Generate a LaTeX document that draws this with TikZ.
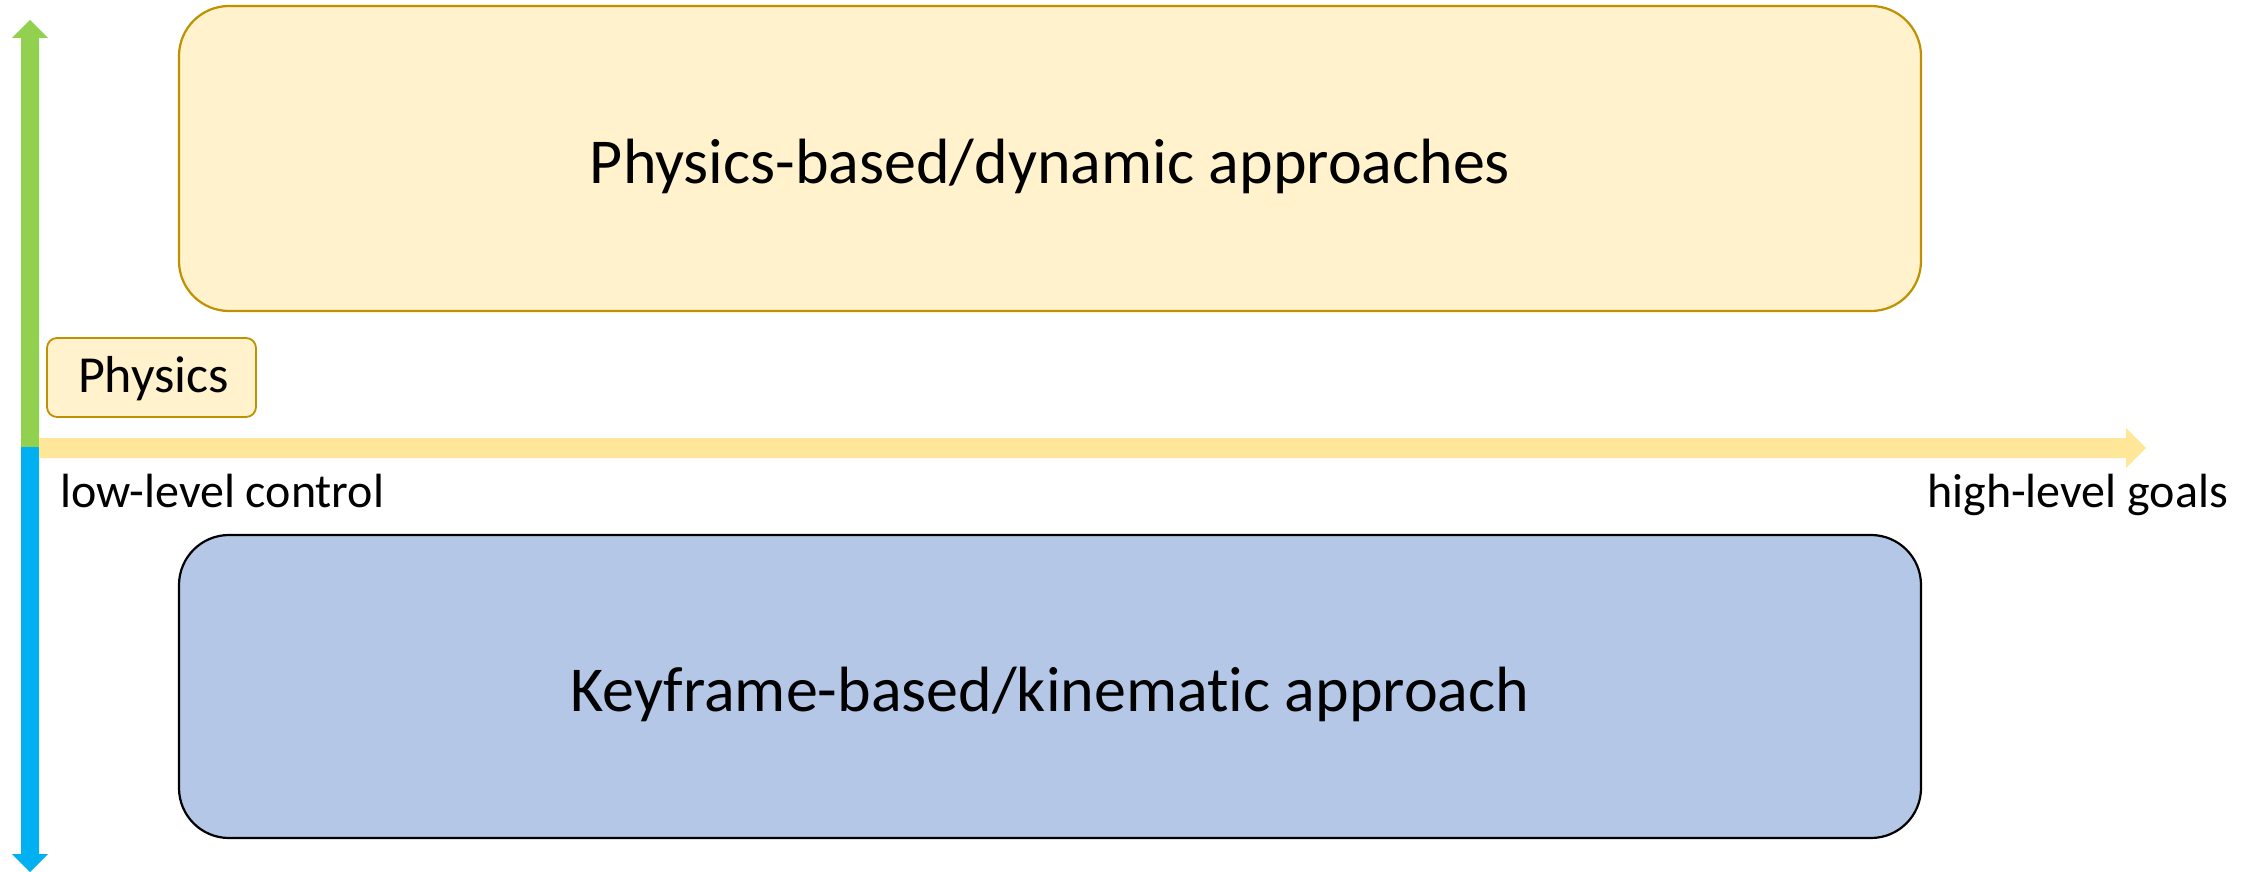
\documentclass[tikz,border=0pt]{standalone}
\usepackage{fontspec}
\setmainfont{Carlito}[Ligatures=NoCommon]
\definecolor{dynfill}{HTML}{FFF2CC}
\definecolor{dyndraw}{HTML}{BF9000}
\definecolor{kinfill}{HTML}{B4C7E7}
\definecolor{axisyellow}{HTML}{FFE699}
\definecolor{axisgreen}{HTML}{92D050}
\definecolor{axisblue}{HTML}{00B0F0}
\tikzset{
  dynbox/.style={draw=dyndraw, fill=dynfill, line width=2.2pt, rounded corners=50pt, inner sep=0pt},
  kinbox/.style={draw=black, fill=kinfill, line width=2.2pt, rounded corners=50pt, inner sep=0pt},
  tagbox/.style={draw=dyndraw, fill=dynfill, line width=1.8pt, rounded corners=10pt, inner sep=0pt},
  bigtext/.style={inner sep=0pt, font=\fontsize{64}{76}\selectfont},
  axistext/.style={inner sep=0pt, font=\fontsize{48}{57}\selectfont},
  tagtext/.style={inner sep=0pt, font=\fontsize{52}{62}\selectfont},
}
\begin{document}
\begin{tikzpicture}[x=1pt,y=-1pt]
\useasboundingbox (0,0) rectangle (2261,872);

% approach boxes
\node[dynbox, minimum width=1742pt, minimum height=305pt] (dyn) at (1050,158.5) {};
\node[bigtext, anchor=base] (dyntext) at (1050,183) {Physics-based/dynamic approaches};
\node[kinbox, minimum width=1742pt, minimum height=303pt] (kin) at (1050,686.5) {};
\node[bigtext, anchor=base] (kintext) at (1050,711) {Keyframe-based/kinematic approach};

% small tag
\node[tagbox, minimum width=209pt, minimum height=79pt] (phys) at (151.5,377.5) {};
\node[tagtext, anchor=base] (physt) at (153.5,392) {Physics};

% axis anchor points
\coordinate (orig) at (30,447);
\coordinate (uptip) at (30,20);
\coordinate (downtip) at (30,872);
\coordinate (righttip) at (2146,448);

% vertical axis: green upwards, blue downwards
\fill[axisgreen] (21,447) -- (21,38) -- (12,38) -- (uptip) -- (48,38) -- (39,38) -- (39,447) -- cycle;
\fill[axisblue] (21,447) -- (21,854) -- (12,854) -- (downtip) -- (48,854) -- (39,854) -- (39,447) -- cycle;

% horizontal axis
\fill[axisyellow] (39,438) -- (2126,438) -- (2126,428) -- (righttip) -- (2126,468) -- (2126,458) -- (39,458) -- cycle;

% axis labels
\node[axistext, anchor=base west] (low) at (60,507) {low-level control};
\node[axistext, anchor=base west] (high) at (1927,507) {high-level goals};
\end{tikzpicture}
\end{document}
